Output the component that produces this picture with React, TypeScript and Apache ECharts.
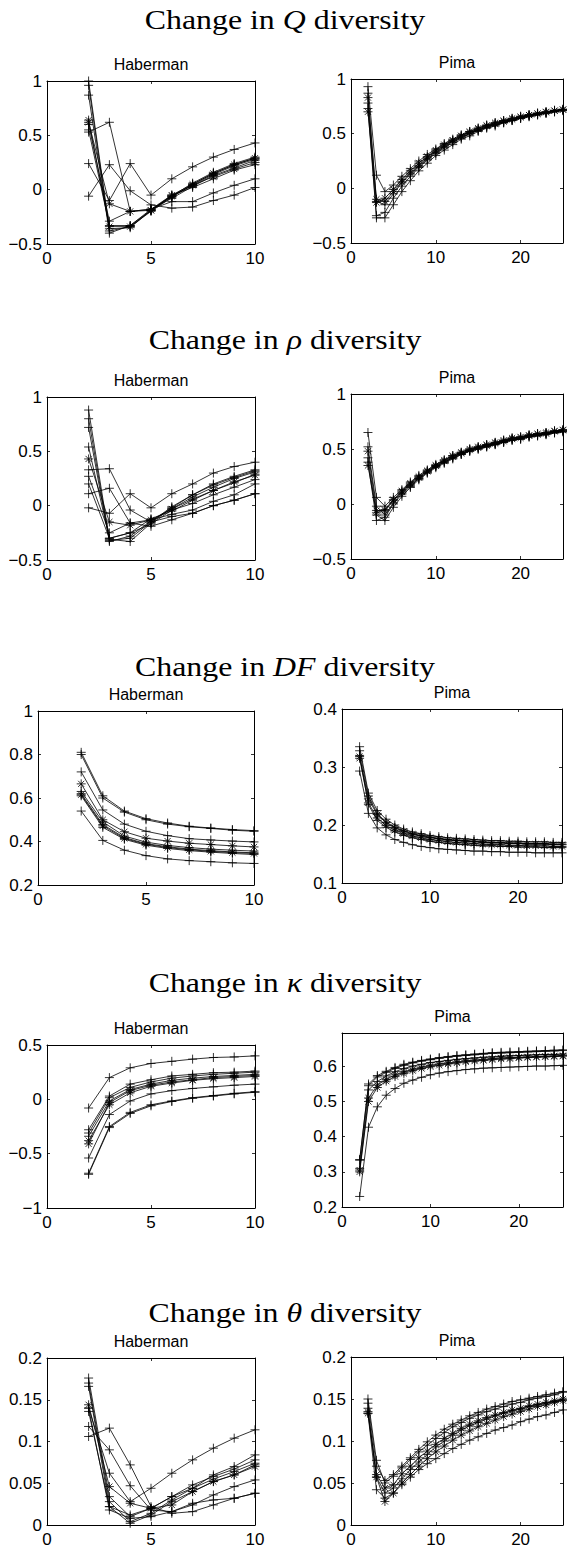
import React, { useEffect, useRef } from "react";
import * as echarts from "echarts";

// ---------- data ----------
const HABERMAN_K = [2, 3, 4, 5, 6, 7, 8, 9, 10];
const PIMA_K = [2, 3, 4, 5, 6, 7, 8, 9, 10, 11, 12, 13, 14, 15, 16, 17, 18, 19, 20, 21, 22, 23, 24, 25];

const TITLE_SYMBOLS = ["Q", "ρ", "DF", "κ", "θ"];
const PLOT_NAMES = ["Haberman", "Pima"];

// Q diversity
const habermanQ = [
  [1.0, -0.36, -0.35, -0.19, -0.06, 0.06, 0.16, 0.24, 0.3],
  [0.96, -0.38, -0.34, -0.2, -0.07, 0.05, 0.15, 0.23, 0.29],
  [0.87, -0.4, -0.33, -0.18, -0.08, 0.03, 0.13, 0.2, 0.27],
  [0.64, -0.34, -0.34, -0.19, -0.05, 0.05, 0.15, 0.23, 0.29],
  [0.62, -0.13, -0.2, -0.19, -0.06, 0.04, 0.12, 0.19, 0.25],
  [0.6, -0.29, -0.2, -0.18, -0.05, 0.02, 0.1, 0.18, 0.23],
  [0.55, -0.33, -0.33, -0.19, -0.06, 0.04, 0.14, 0.22, 0.28],
  [0.53, 0.62, -0.2, -0.18, -0.11, -0.11, -0.03, 0.04, 0.1],
  [0.24, -0.1, 0.24, -0.05, 0.1, 0.21, 0.3, 0.37, 0.43],
  [-0.06, 0.23, -0.01, -0.14, -0.17, -0.16, -0.1, -0.05, 0.02],
];
const habermanQMarks = ["+", "+", "+", "*", "*", "+", "+", "+", "+", "+"];

const pimaQ = [
  [0.93, 0.12, -0.03, 0.03, 0.11, 0.18, 0.25, 0.31, 0.36, 0.41, 0.45, 0.49, 0.52, 0.55, 0.58, 0.6, 0.62, 0.64, 0.66, 0.675, 0.69, 0.7, 0.715, 0.725],
  [0.83, -0.1, -0.12, -0.03, 0.06, 0.14, 0.21, 0.28, 0.34, 0.39, 0.44, 0.48, 0.51, 0.54, 0.57, 0.59, 0.61, 0.63, 0.65, 0.67, 0.68, 0.695, 0.71, 0.72],
  [0.87, -0.12, -0.15, -0.05, 0.05, 0.13, 0.2, 0.27, 0.33, 0.38, 0.43, 0.47, 0.5, 0.53, 0.56, 0.585, 0.605, 0.625, 0.645, 0.665, 0.68, 0.69, 0.705, 0.715],
  [0.78, -0.25, -0.22, -0.09, 0.02, 0.11, 0.19, 0.26, 0.32, 0.37, 0.42, 0.46, 0.5, 0.53, 0.56, 0.58, 0.6, 0.62, 0.64, 0.66, 0.675, 0.69, 0.7, 0.715],
  [0.73, -0.27, -0.27, -0.15, -0.03, 0.07, 0.16, 0.23, 0.3, 0.35, 0.4, 0.45, 0.48, 0.52, 0.55, 0.57, 0.6, 0.62, 0.64, 0.655, 0.67, 0.685, 0.7, 0.71],
  [0.7, -0.13, -0.09, -0.01, 0.08, 0.16, 0.23, 0.29, 0.35, 0.4, 0.44, 0.48, 0.52, 0.55, 0.575, 0.6, 0.62, 0.64, 0.655, 0.67, 0.685, 0.7, 0.71, 0.72],
];
const pimaQMarks = ["+", "*", "+", "+", "+", "*"];

// rho diversity
const habermanRho = [
  [0.88, -0.31, -0.33, -0.16, -0.02, 0.1, 0.19, 0.26, 0.32],
  [0.8, -0.32, -0.3, -0.15, -0.01, 0.1, 0.2, 0.27, 0.33],
  [0.72, -0.33, -0.28, -0.14, -0.03, 0.08, 0.17, 0.25, 0.31],
  [0.43, -0.15, -0.18, -0.13, -0.03, 0.06, 0.14, 0.22, 0.28],
  [0.54, -0.3, -0.25, -0.12, -0.05, 0.05, 0.14, 0.21, 0.29],
  [0.33, 0.34, -0.04, -0.15, -0.1, -0.07, 0.0, 0.05, 0.11],
  [0.27, -0.25, -0.16, -0.13, -0.08, -0.04, 0.04, 0.1, 0.2],
  [0.11, 0.16, -0.16, -0.19, -0.13, -0.07, 0.0, 0.05, 0.11],
  [-0.02, -0.07, 0.11, -0.02, 0.11, 0.2, 0.3, 0.36, 0.4],
  [0.2, -0.3, -0.25, -0.17, -0.04, 0.02, 0.1, 0.17, 0.24],
];
const habermanRhoMarks = ["+", "+", "+", "*", "+", "+", "+", "+", "+", "+"];

const pimaRho = [
  [0.65, 0.06, -0.02, 0.06, 0.13, 0.2, 0.26, 0.31, 0.36, 0.4, 0.44, 0.47, 0.5, 0.52, 0.54, 0.56, 0.58, 0.6, 0.61, 0.63, 0.64, 0.65, 0.665, 0.675],
  [0.48, -0.06, -0.06, 0.03, 0.11, 0.18, 0.24, 0.3, 0.35, 0.39, 0.43, 0.46, 0.49, 0.51, 0.53, 0.55, 0.57, 0.59, 0.6, 0.62, 0.63, 0.64, 0.66, 0.67],
  [0.52, -0.02, -0.1, 0.01, 0.1, 0.17, 0.23, 0.29, 0.34, 0.38, 0.42, 0.45, 0.48, 0.5, 0.52, 0.54, 0.56, 0.58, 0.59, 0.61, 0.62, 0.635, 0.65, 0.66],
  [0.42, -0.1, -0.15, -0.03, 0.07, 0.15, 0.22, 0.28, 0.33, 0.37, 0.41, 0.45, 0.48, 0.5, 0.52, 0.54, 0.56, 0.58, 0.59, 0.61, 0.62, 0.63, 0.645, 0.655],
  [0.38, -0.15, -0.12, 0.0, 0.09, 0.16, 0.23, 0.29, 0.34, 0.38, 0.42, 0.46, 0.49, 0.51, 0.53, 0.55, 0.57, 0.59, 0.6, 0.62, 0.63, 0.64, 0.655, 0.665],
  [0.35, -0.08, -0.05, 0.04, 0.12, 0.19, 0.25, 0.3, 0.35, 0.4, 0.44, 0.47, 0.5, 0.52, 0.54, 0.56, 0.58, 0.6, 0.61, 0.625, 0.64, 0.65, 0.665, 0.675],
];
const pimaRhoMarks = ["+", "*", "+", "+", "+", "*"];

// DF diversity
const habermanDF = [
  [0.81, 0.61, 0.54, 0.505, 0.485, 0.47, 0.462, 0.455, 0.45],
  [0.8, 0.6, 0.535, 0.5, 0.48, 0.468, 0.46, 0.452, 0.447],
  [0.72, 0.545, 0.48, 0.447, 0.427, 0.413, 0.407, 0.402, 0.398],
  [0.665, 0.5, 0.445, 0.415, 0.402, 0.392, 0.386, 0.38, 0.375],
  [0.63, 0.49, 0.425, 0.397, 0.382, 0.372, 0.365, 0.36, 0.356],
  [0.62, 0.478, 0.418, 0.39, 0.376, 0.365, 0.358, 0.352, 0.348],
  [0.615, 0.472, 0.414, 0.387, 0.372, 0.362, 0.355, 0.349, 0.345],
  [0.61, 0.465, 0.41, 0.383, 0.368, 0.358, 0.351, 0.345, 0.34],
  [0.54, 0.405, 0.36, 0.335, 0.32, 0.312, 0.307, 0.302, 0.299],
];
const habermanDFMarks = ["+", "+", "+", "*", "+", "+", "*", "+", "+"];

const pimaDF = [
  [0.335, 0.255, 0.225, 0.21, 0.2, 0.193, 0.188, 0.185, 0.182, 0.18, 0.178, 0.177, 0.176, 0.175, 0.174, 0.173, 0.173, 0.172, 0.172, 0.171, 0.171, 0.171, 0.17, 0.17],
  [0.318, 0.245, 0.218, 0.204, 0.195, 0.189, 0.184, 0.181, 0.178, 0.176, 0.174, 0.173, 0.172, 0.171, 0.17, 0.169, 0.169, 0.168, 0.168, 0.167, 0.167, 0.167, 0.166, 0.166],
  [0.328, 0.25, 0.22, 0.205, 0.196, 0.19, 0.185, 0.182, 0.179, 0.177, 0.175, 0.174, 0.173, 0.172, 0.171, 0.17, 0.17, 0.169, 0.169, 0.168, 0.168, 0.168, 0.167, 0.167],
  [0.315, 0.238, 0.212, 0.199, 0.191, 0.185, 0.181, 0.178, 0.175, 0.173, 0.171, 0.17, 0.169, 0.168, 0.167, 0.166, 0.166, 0.165, 0.165, 0.164, 0.164, 0.164, 0.163, 0.163],
  [0.32, 0.235, 0.208, 0.196, 0.188, 0.182, 0.178, 0.175, 0.172, 0.17, 0.168, 0.167, 0.166, 0.165, 0.164, 0.164, 0.163, 0.163, 0.162, 0.162, 0.162, 0.161, 0.161, 0.161],
  [0.293, 0.22, 0.195, 0.183, 0.175, 0.17, 0.166, 0.163, 0.161, 0.159, 0.158, 0.157, 0.156, 0.155, 0.155, 0.154, 0.154, 0.153, 0.153, 0.153, 0.152, 0.152, 0.152, 0.152],
];
const pimaDFMarks = ["+", "*", "+", "*", "+", "+"];

// kappa diversity
const habermanKappa = [
  [-0.08, 0.2, 0.29, 0.33, 0.35, 0.37, 0.385, 0.39, 0.4],
  [-0.28, 0.03, 0.14, 0.18, 0.215, 0.23, 0.245, 0.25, 0.26],
  [-0.31, 0.015, 0.11, 0.16, 0.195, 0.215, 0.23, 0.24, 0.25],
  [-0.34, -0.015, 0.09, 0.14, 0.175, 0.195, 0.21, 0.22, 0.23],
  [-0.38, -0.05, 0.06, 0.12, 0.15, 0.175, 0.19, 0.2, 0.21],
  [-0.41, -0.03, 0.08, 0.13, 0.16, 0.18, 0.2, 0.21, 0.22],
  [-0.54, -0.14, -0.015, 0.05, 0.08, 0.1, 0.115, 0.13, 0.14],
  [-0.68, -0.25, -0.12, -0.05, -0.015, 0.015, 0.035, 0.055, 0.07],
  [-0.69, -0.26, -0.13, -0.06, -0.02, 0.01, 0.03, 0.05, 0.065],
];
const habermanKappaMarks = ["+", "+", "+", "+", "*", "*", "+", "+", "+"];

const pimaKappa = [
  [0.333, 0.55, 0.574, 0.586, 0.597, 0.606, 0.612, 0.617, 0.621, 0.625, 0.628, 0.631, 0.633, 0.635, 0.637, 0.639, 0.64, 0.641, 0.642, 0.643, 0.644, 0.645, 0.646, 0.647],
  [0.31, 0.533, 0.557, 0.573, 0.585, 0.594, 0.601, 0.606, 0.611, 0.614, 0.617, 0.62, 0.622, 0.624, 0.626, 0.627, 0.629, 0.63, 0.631, 0.632, 0.633, 0.634, 0.634, 0.635],
  [0.305, 0.51, 0.547, 0.563, 0.576, 0.585, 0.592, 0.598, 0.603, 0.607, 0.61, 0.613, 0.616, 0.618, 0.62, 0.622, 0.624, 0.625, 0.626, 0.627, 0.628, 0.629, 0.63, 0.631],
  [0.3, 0.5, 0.54, 0.558, 0.571, 0.58, 0.588, 0.594, 0.599, 0.603, 0.607, 0.61, 0.613, 0.615, 0.617, 0.619, 0.621, 0.622, 0.624, 0.625, 0.626, 0.627, 0.628, 0.629],
  [0.23, 0.427, 0.485, 0.518, 0.537, 0.552, 0.561, 0.569, 0.576, 0.581, 0.585, 0.588, 0.591, 0.593, 0.595, 0.596, 0.597, 0.598, 0.599, 0.6, 0.601, 0.601, 0.602, 0.603],
  [0.335, 0.545, 0.57, 0.583, 0.594, 0.603, 0.61, 0.615, 0.619, 0.623, 0.626, 0.629, 0.631, 0.633, 0.635, 0.637, 0.638, 0.639, 0.64, 0.641, 0.642, 0.643, 0.644, 0.645],
];
const pimaKappaMarks = ["+", "+", "*", "*", "+", "+"];

// theta diversity
const habermanTheta = [
  [0.176, 0.034, 0.01, 0.02, 0.034, 0.048, 0.058, 0.067, 0.078],
  [0.17, 0.028, 0.004, 0.014, 0.03, 0.044, 0.055, 0.064, 0.074],
  [0.166, 0.022, 0.002, 0.012, 0.028, 0.04, 0.052, 0.06, 0.072],
  [0.144, 0.046, 0.026, 0.02, 0.024, 0.04, 0.052, 0.06, 0.07],
  [0.14, 0.062, 0.028, 0.044, 0.062, 0.078, 0.092, 0.104, 0.114],
  [0.136, 0.022, 0.012, 0.02, 0.034, 0.044, 0.06, 0.07, 0.084],
  [0.118, 0.09, 0.047, 0.018, 0.016, 0.024, 0.036, 0.046, 0.054],
  [0.106, 0.116, 0.072, 0.022, 0.014, 0.016, 0.024, 0.032, 0.038],
  [0.14, 0.018, 0.008, 0.01, 0.016, 0.026, 0.03, 0.032, 0.038],
];
const habermanThetaMarks = ["+", "+", "+", "*", "+", "+", "+", "+", "+"];

const pimaTheta = [
  [0.15, 0.077, 0.05, 0.058, 0.068, 0.078, 0.087, 0.095, 0.103, 0.11, 0.117, 0.122, 0.127, 0.131, 0.135, 0.138, 0.141, 0.144, 0.146, 0.149, 0.151, 0.153, 0.155, 0.158],
  [0.135, 0.06, 0.044, 0.048, 0.061, 0.07, 0.08, 0.088, 0.096, 0.103, 0.109, 0.115, 0.12, 0.124, 0.128, 0.131, 0.134, 0.137, 0.139, 0.142, 0.144, 0.146, 0.148, 0.15],
  [0.139, 0.057, 0.038, 0.044, 0.055, 0.066, 0.075, 0.084, 0.093, 0.1, 0.107, 0.113, 0.118, 0.122, 0.126, 0.13, 0.133, 0.136, 0.138, 0.141, 0.143, 0.145, 0.147, 0.149],
  [0.133, 0.057, 0.028, 0.038, 0.05, 0.06, 0.07, 0.079, 0.087, 0.094, 0.101, 0.107, 0.112, 0.117, 0.121, 0.125, 0.129, 0.132, 0.135, 0.138, 0.141, 0.143, 0.146, 0.148],
  [0.133, 0.042, 0.032, 0.038, 0.048, 0.057, 0.066, 0.073, 0.079, 0.085, 0.091, 0.096, 0.101, 0.105, 0.109, 0.113, 0.116, 0.119, 0.123, 0.126, 0.129, 0.131, 0.134, 0.137],
  [0.145, 0.07, 0.053, 0.06, 0.07, 0.08, 0.09, 0.099, 0.107, 0.114, 0.12, 0.125, 0.13, 0.134, 0.138, 0.141, 0.144, 0.147, 0.149, 0.151, 0.153, 0.155, 0.157, 0.159],
];
const pimaThetaMarks = ["+", "*", "+", "*", "+", "+"];

// axis ranges [min, max, interval]
const habermanX = [0, 10, 5];
const pimaX = [0, 25, 10];
const habermanYRanges = [[-0.5, 1, 0.5], [-0.5, 1, 0.5], [0.2, 1, 0.2], [-1, 0.5, 0.5], [0, 0.2, 0.05]];
const pimaYRanges = [[-0.5, 1, 0.5], [-0.5, 1, 0.5], [0.1, 0.4, 0.1], [0.2, 0.695, 0.1], [0, 0.2, 0.05]];

// ---------- layout (pixels) ----------
const TITLE_Y = [20, 340, 667, 983, 1313];
const HAB_RECT = [
  [47, 81, 255, 244],
  [47, 397, 255, 560],
  [38, 711, 254, 885],
  [47, 1045, 255, 1208],
  [47, 1358, 255, 1525],
];
const PIMA_RECT = [
  [351, 79, 563, 243],
  [351, 394, 563, 559],
  [342, 709, 562, 883],
  [342, 1033, 563, 1207],
  [351, 1357, 563, 1525],
];

const PLUS = "path://M5,0L5,10M0,5L10,5";
const STAR = "path://M5,0L5,10M0,5L10,5M1.6,1.6L8.4,8.4M1.6,8.4L8.4,1.6";

const SANS = "Liberation Sans";
const SERIF = "Liberation Serif";

function fmt(interval: number) {
  return (v: number) => {
    const q = v / interval;
    if (Math.abs(q - Math.round(q)) > 1e-6) return "";
    const s = String(parseFloat(v.toFixed(4)));
    return s.replace("-", "\u2212");
  };
}

function buildOption() {
  const grid: any[] = [];
  const xAxis: any[] = [];
  const yAxis: any[] = [];
  const series: any[] = [];
  const graphic: any[] = [];

  const rows = [
    { hab: habermanQ, habM: habermanQMarks, pima: pimaQ, pimaM: pimaQMarks },
    { hab: habermanRho, habM: habermanRhoMarks, pima: pimaRho, pimaM: pimaRhoMarks },
    { hab: habermanDF, habM: habermanDFMarks, pima: pimaDF, pimaM: pimaDFMarks },
    { hab: habermanKappa, habM: habermanKappaMarks, pima: pimaKappa, pimaM: pimaKappaMarks },
    { hab: habermanTheta, habM: habermanThetaMarks, pima: pimaTheta, pimaM: pimaThetaMarks },
  ];

  const tick = { show: true, inside: true, length: 3, lineStyle: { color: "#000", width: 0.8 } };
  const line = { show: true, onZero: false, lineStyle: { color: "#000", width: 1 } };
  const label = (interval: number, margin: number) => ({
    show: true,
    color: "#000",
    fontFamily: SANS,
    fontSize: 17,
    margin,
    formatter: fmt(interval),
  });

  rows.forEach((row, r) => {
    const panels = [
      { rect: HAB_RECT[r], xr: habermanX, yr: habermanYRanges[r], k: HABERMAN_K, data: row.hab, marks: row.habM, name: PLOT_NAMES[0] },
      { rect: PIMA_RECT[r], xr: pimaX, yr: pimaYRanges[r], k: PIMA_K, data: row.pima, marks: row.pimaM, name: PLOT_NAMES[1] },
    ];
    panels.forEach((p) => {
      const gi = grid.length;
      const [l, t, rr, b] = p.rect;
      grid.push({ left: l, top: t, width: rr - l, height: b - t, containLabel: false, show: false });
      const xBase = { type: "value", gridIndex: gi, min: p.xr[0], max: p.xr[1], interval: p.xr[2], splitLine: { show: false }, axisLine: line, axisTick: tick };
      const yBase = { type: "value", gridIndex: gi, min: p.yr[0], max: p.yr[1], interval: p.yr[2], splitLine: { show: false }, axisLine: line, axisTick: tick };
      xAxis.push({ ...xBase, position: "bottom", axisLabel: label(p.xr[2], 6) });
      xAxis.push({ ...xBase, position: "top", axisLabel: { show: false } });
      yAxis.push({ ...yBase, position: "left", axisLabel: label(p.yr[2], 5) });
      yAxis.push({ ...yBase, position: "right", axisLabel: { show: false } });
      const xi = xAxis.length - 2;
      const yi = yAxis.length - 2;
      p.data.forEach((vals, si) => {
        series.push({
          type: "line",
          xAxisIndex: xi,
          yAxisIndex: yi,
          data: p.k.map((k, j) => [k, vals[j]]),
          symbol: p.marks[si] === "*" ? STAR : PLUS,
          symbolSize: 9,
          showSymbol: true,
          showAllSymbol: true,
          silent: true,
          lineStyle: { color: "#000", width: 0.8 },
          itemStyle: { color: "none", borderColor: "#000", borderWidth: 0.8 },
          emphasis: { disabled: true },
        });
      });
      graphic.push({
        type: "text",
        x: (l + rr) / 2,
        y: t - 17,
        silent: true,
        style: { text: p.name, fontFamily: SANS, fontSize: 16, fill: "#000", align: "center", verticalAlign: "middle" },
      });
    });
    graphic.push({
      type: "text",
      x: 285,
      y: TITLE_Y[r],
      scaleX: 1.18,
      silent: true,
      style: {
        text: `{n|Change in }{i|${TITLE_SYMBOLS[r]}}{n| diversity}`,
        fontFamily: SERIF,
        fontSize: 27,
        fill: "#000",
        align: "center",
        verticalAlign: "middle",
        rich: {
          n: { fontFamily: SERIF, fontSize: 27, fill: "#000" },
          i: { fontFamily: SERIF, fontSize: 27, fontStyle: "italic", fill: "#000" },
        },
      },
    });
  });

  return {
    animation: false,
    backgroundColor: "#fff",
    grid,
    xAxis,
    yAxis,
    series,
    graphic,
  };
}

export default function App() {
  const ref = useRef<HTMLDivElement>(null);
  useEffect(() => {
    document.body.style.margin = "0";
    const chart = echarts.init(ref.current as HTMLDivElement, null, { renderer: "svg" });
    chart.setOption(buildOption() as any);
    return () => chart.dispose();
  }, []);
  return <div ref={ref} style={{ width: 567, height: 1550 }} />;
}
